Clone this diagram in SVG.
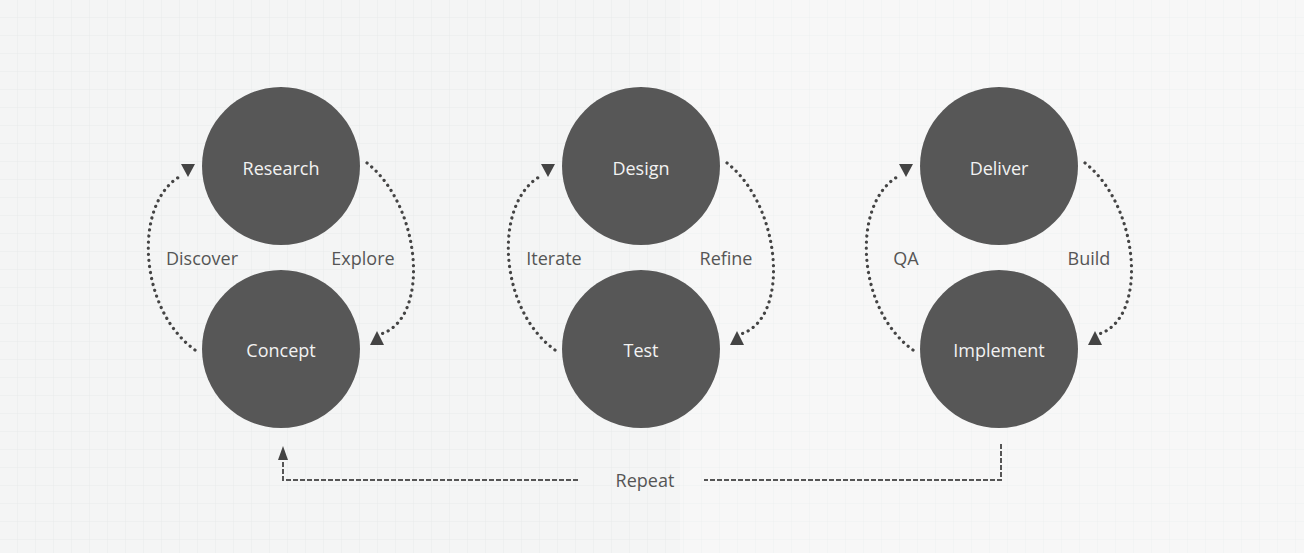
<svg xmlns="http://www.w3.org/2000/svg" width="1304" height="553" viewBox="0 0 1304 553">
<defs>
<pattern id="grid" width="18" height="18" patternUnits="userSpaceOnUse">
<path d="M18 0V18H0" fill="none" stroke="#e9ebeb" stroke-width="1"/>
</pattern>
<style>
.node{fill:#575757}
.nt{font-family:"Open Sans","Liberation Sans",sans-serif;font-size:18px;font-weight:500;fill:#f2f2f2;text-anchor:middle;dominant-baseline:central}
.lbl{font-family:"Open Sans","Liberation Sans",sans-serif;font-size:18px;font-weight:500;fill:#555;text-anchor:middle;dominant-baseline:central}
.dot{fill:none;stroke:#444;stroke-width:3.2;stroke-linecap:round;stroke-dasharray:0.1 6}
.dash{fill:none;stroke:#555;stroke-width:2;stroke-dasharray:5 2}
.head{fill:#444}
</style>
</defs>
<rect width="1304" height="553" fill="#f4f5f5"/>
<rect width="1304" height="553" fill="url(#grid)"/>
<rect x="680" y="0" width="624" height="553" fill="#ffffff" opacity="0.25"/>

<g id="connectors">
<path class="dot" d="M195 350 C139 310 133 205 179 177"/>
<polygon class="head" points="181,164 195,164 188,177"/>
<path class="dot" d="M367 163 C421 205 431 318 381 334"/>
<polygon class="head" points="377,331 384,345 370,345"/>
<path class="dot" d="M555 350 C499 310 493 205 539 177"/>
<polygon class="head" points="541,164 555,164 548,177"/>
<path class="dot" d="M727 163 C781 205 791 318 741 334"/>
<polygon class="head" points="737,331 744,345 730,345"/>
<path class="dot" d="M913 350 C857 310 851 205 897 177"/>
<polygon class="head" points="899,164 913,164 906,177"/>
<path class="dot" d="M1085 163 C1139 205 1149 318 1099 334"/>
<polygon class="head" points="1095,331 1102,345 1088,345"/>
<path class="dash" d="M1001 444 V480 H704"/>
<path class="dash" d="M578 480 H283 V459"/>
<polygon class="head" points="283,446 288,460 278,460"/>
</g>

<g id="labels">
<text class="lbl" x="202" y="258">Discover</text>
<text class="lbl" x="363" y="258">Explore</text>
<text class="lbl" x="554" y="258">Iterate</text>
<text class="lbl" x="726" y="258">Refine</text>
<text class="lbl" x="906" y="258">QA</text>
<text class="lbl" x="1089" y="258">Build</text>
<text class="lbl" x="645" y="480">Repeat</text>
</g>

<g id="research"><circle class="node" cx="281" cy="166" r="79"/><text class="nt" x="281" y="168">Research</text></g>
<g id="concept"><circle class="node" cx="281" cy="349" r="79"/><text class="nt" x="281" y="350">Concept</text></g>
<g id="design"><circle class="node" cx="641" cy="166" r="79"/><text class="nt" x="641" y="168">Design</text></g>
<g id="test"><circle class="node" cx="641" cy="349" r="79"/><text class="nt" x="641" y="350">Test</text></g>
<g id="deliver"><circle class="node" cx="999" cy="166" r="79"/><text class="nt" x="999" y="168">Deliver</text></g>
<g id="implement"><circle class="node" cx="999" cy="349" r="79"/><text class="nt" x="999" y="350">Implement</text></g>
</svg>
